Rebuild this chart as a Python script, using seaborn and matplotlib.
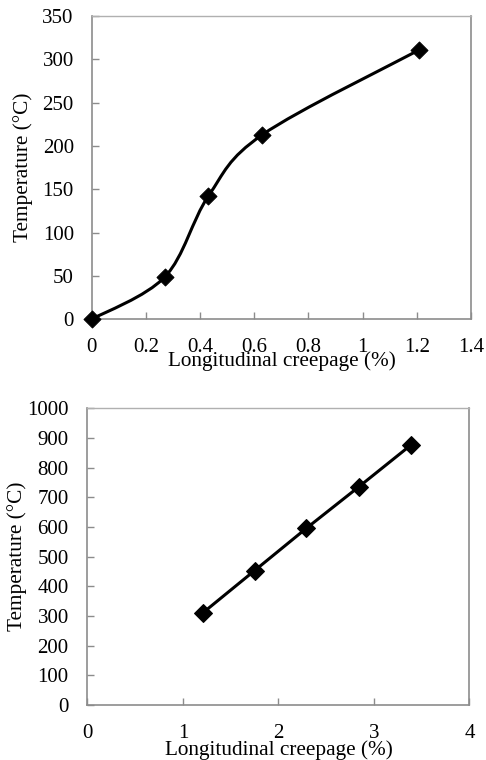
import numpy as np
import matplotlib
matplotlib.use("Agg")
import matplotlib.pyplot as plt
from matplotlib.path import Path
from matplotlib.patches import PathPatch
import seaborn as sns
import pandas as pd

# ---- data ----
creep_low = [0.0, 0.27, 0.43, 0.63, 1.21]
temp_low = [0, 49, 142, 213, 311]
creep_high = [1.21, 1.75, 2.29, 2.84, 3.39]
temp_high = [311, 453, 595, 735, 877]
xticks_low = [0, 0.2, 0.4, 0.6, 0.8, 1, 1.2, 1.4]
yticks_low = [0, 50, 100, 150, 200, 250, 300, 350]
xticks_high = [0, 1, 2, 3, 4]
yticks_high = [0, 100, 200, 300, 400, 500, 600, 700, 800, 900, 1000]
xlabel = "Longitudinal creepage (%)"
ylabel = "Temperature (\u00b0C)"

sns.set_theme(style="white")
plt.rcParams['font.family'] = ['Liberation Serif', 'DejaVu Serif']

fig = plt.figure(figsize=(4.86, 7.6), dpi=100)
ax1 = fig.add_axes([0.189, 0.580, 0.780, 0.399])
ax2 = fig.add_axes([0.180, 0.0724, 0.786, 0.3904])

TFS = 15
LFS = 15.3

def smooth_path(x, y):
    pts = np.column_stack([x, y]).astype(float)
    n = len(pts)
    verts = [pts[0]]
    codes = [Path.MOVETO]
    for i in range(n - 1):
        p0 = pts[i - 1] if i > 0 else pts[i]
        p1 = pts[i]
        p2 = pts[i + 1]
        p3 = pts[i + 2] if i + 2 < n else pts[i + 1]
        c1 = p1 + (p2 - p0) / 6.0
        c2 = p2 - (p3 - p1) / 6.0
        verts += [c1, c2, p2]
        codes += [Path.CURVE4] * 3
    return Path(verts, codes)

def style(ax, xt, yt, xlim, ylim, xpad, ypad, xlab_y, ylab_x):
    ax.set_xlim(*xlim)
    ax.set_ylim(*ylim)
    ax.set_xticks(xt)
    ax.set_yticks(yt)
    ax.set_xticklabels([f"{v:g}" for v in xt], fontsize=TFS)
    ax.set_yticklabels([f"{v:g}" for v in yt], fontsize=TFS)
    ax.tick_params(axis='x', direction='in', length=5, width=1, color='#8c8c8c', pad=xpad, labelcolor='black', bottom=True)
    ax.tick_params(axis='y', direction='in', length=5, width=1, color='#8c8c8c', pad=ypad, labelcolor='black', left=True)
    for s in ['left', 'bottom', 'right']:
        ax.spines[s].set_color('#8c8c8c')
        ax.spines[s].set_linewidth(1.2)
    ax.spines['top'].set_color('#b0b0b0')
    ax.spines['top'].set_linewidth(1.0)
    ax.set_xlabel(xlabel, fontsize=LFS, color='black')
    ax.set_ylabel(ylabel, fontsize=LFS, color='black')
    ax.xaxis.set_label_coords(0.5, xlab_y)
    ax.yaxis.set_label_coords(ylab_x, 0.5)
    ax.grid(False)

# top panel
df1 = pd.DataFrame({"x": creep_low, "y": temp_low})
patch = PathPatch(smooth_path(creep_low, temp_low), facecolor='none', edgecolor='black', lw=2.2, zorder=2, clip_on=False)
ax1.add_patch(patch)
sns.scatterplot(data=df1, x="x", y="y", ax=ax1, marker='D', s=75, color='black', edgecolor='black', zorder=3, clip_on=False)
style(ax1, xticks_low, yticks_low, (0, 1.4), (0, 350), 13.5, 13, -0.107, -0.156)

# bottom panel
df2 = pd.DataFrame({"x": creep_high, "y": temp_high})
sns.lineplot(data=df2, x="x", y="y", ax=ax2, color='black', lw=2.2, marker='D', markersize=9, markeredgecolor='black', clip_on=False)
style(ax2, xticks_high, yticks_high, (0, 4), (0, 1000), 13.5, 13.5, -0.12, -0.158)

fig.savefig("out.png", dpi=100)
